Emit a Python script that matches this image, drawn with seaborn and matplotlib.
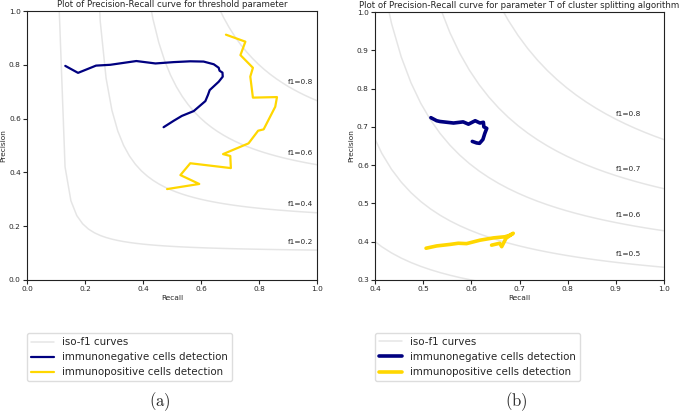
import numpy as np
import pandas as pd
import matplotlib
matplotlib.use("Agg")
import matplotlib.pyplot as plt
import seaborn as sns

# (a) threshold parameter
neg_a_recall = [0.132, 0.176, 0.238, 0.287, 0.377, 0.443, 0.506, 0.563, 0.609, 0.644,
                0.661, 0.664, 0.674, 0.675, 0.661, 0.630, 0.624, 0.615, 0.575, 0.534,
                0.506, 0.471]
neg_a_precision = [0.796, 0.770, 0.797, 0.800, 0.814, 0.805, 0.810, 0.813, 0.812, 0.802,
                   0.789, 0.778, 0.771, 0.756, 0.737, 0.706, 0.688, 0.665, 0.628, 0.610,
                   0.592, 0.568]
pos_a_recall = [0.686, 0.753, 0.736, 0.779, 0.770, 0.779, 0.862, 0.856, 0.816, 0.797,
                0.764, 0.676, 0.701, 0.703, 0.563, 0.529, 0.594, 0.483]
pos_a_precision = [0.912, 0.886, 0.836, 0.789, 0.756, 0.678, 0.680, 0.644, 0.560, 0.555,
                   0.508, 0.468, 0.461, 0.416, 0.434, 0.390, 0.357, 0.338]
f1_a = [0.2, 0.4, 0.6, 0.8]

# (b) parameter T of cluster splitting
neg_b_recall = [0.516, 0.528, 0.535, 0.563, 0.583, 0.594, 0.608, 0.618, 0.625, 0.626,
                0.632, 0.628, 0.624, 0.617, 0.611, 0.602]
neg_b_precision = [0.724, 0.716, 0.714, 0.710, 0.713, 0.707, 0.716, 0.710, 0.712, 0.700,
                   0.696, 0.683, 0.667, 0.657, 0.658, 0.662]
pos_b_recall = [0.506, 0.528, 0.556, 0.573, 0.590, 0.618, 0.646, 0.670, 0.680, 0.687,
                0.672, 0.663, 0.659, 0.642]
pos_b_precision = [0.383, 0.389, 0.393, 0.396, 0.395, 0.404, 0.410, 0.413, 0.417, 0.422,
                   0.409, 0.387, 0.396, 0.391]
f1_b = [0.4, 0.5, 0.6, 0.7, 0.8]

titles = ['Plot of Precision-Recall curve for threshold parameter',
          'Plot of Precision-Recall curve for parameter T of cluster splitting algorithm']
labels = ['iso-f1 curves', 'immunonegative cells detection', 'immunopositive cells detection']

sns.set_style('ticks')
plt.rcParams['font.family'] = ['DejaVu Sans']
plt.rcParams['mathtext.fontset'] = 'cm'


def draw_panel(ax, neg_r, neg_p, pos_r, pos_p, f1_scores, xlim, ylim, ticks_x, ticks_y,
               title, lw):
    x = np.linspace(0.01, 1)
    for i, f in enumerate(f1_scores):
        y = f * x / (2 * x - f)
        iso = pd.DataFrame({'r': x[y >= 0], 'p': y[y >= 0]})
        sns.lineplot(data=iso, x='r', y='p', ax=ax, color='gray', alpha=0.2, lw=1.1,
                     sort=False, estimator=None, label=labels[0] if i == 0 else None)
        ax.annotate('f1={0:0.1f}'.format(f), xy=(0.9, y[45] + 0.02), fontsize=5.3)
    neg = pd.DataFrame({'r': neg_r, 'p': neg_p})
    pos = pd.DataFrame({'r': pos_r, 'p': pos_p})
    sns.lineplot(data=neg, x='r', y='p', ax=ax, color='navy', lw=lw, sort=False,
                 estimator=None, label=labels[1])
    sns.lineplot(data=pos, x='r', y='p', ax=ax, color='gold', lw=lw, sort=False,
                 estimator=None, label=labels[2])
    ax.set_xlim(xlim)
    ax.set_ylim(ylim)
    ax.set_xticks(ticks_x)
    ax.set_yticks(ticks_y)
    ax.tick_params(labelsize=5.3, length=3, width=0.8, pad=1.5)
    ax.set_xlabel('Recall', fontsize=5.3, labelpad=2)
    ax.set_ylabel('Precision', fontsize=5.3, labelpad=2)
    ax.set_title(title, fontsize=6.2, pad=3)
    for s in ax.spines.values():
        s.set_linewidth(0.8)
        s.set_color('#222222')
    ax.legend(loc='upper left', bbox_to_anchor=(0, -0.197), fontsize=7.4, frameon=True,
              borderaxespad=0, handlelength=2.2, fancybox=True, framealpha=1,
              edgecolor='#dddddd')


fig = plt.figure(figsize=(6.85, 4.2), dpi=100)
ax1 = fig.add_axes([27 / 685, 140 / 420, 290 / 685, 269 / 420])
ax2 = fig.add_axes([375 / 685, 140 / 420, 289 / 685, 268 / 420])

draw_panel(ax1, neg_a_recall, neg_a_precision, pos_a_recall, pos_a_precision, f1_a,
           (0, 1), (0, 1), np.arange(0, 1.01, 0.2), np.arange(0, 1.01, 0.2), titles[0], 1.6)
draw_panel(ax2, neg_b_recall, neg_b_precision, pos_b_recall, pos_b_precision, f1_b,
           (0.4, 1), (0.3, 1), np.arange(0.4, 1.01, 0.1), np.arange(0.3, 1.01, 0.1),
           titles[1], 2.6)

fig.text(160 / 685, 1 - 402 / 420, r'$\mathrm{(a)}$', fontsize=12, ha='center', va='center')
fig.text(516 / 685, 1 - 402 / 420, r'$\mathrm{(b)}$', fontsize=12, ha='center', va='center')

fig.savefig('out.png', dpi=100)
